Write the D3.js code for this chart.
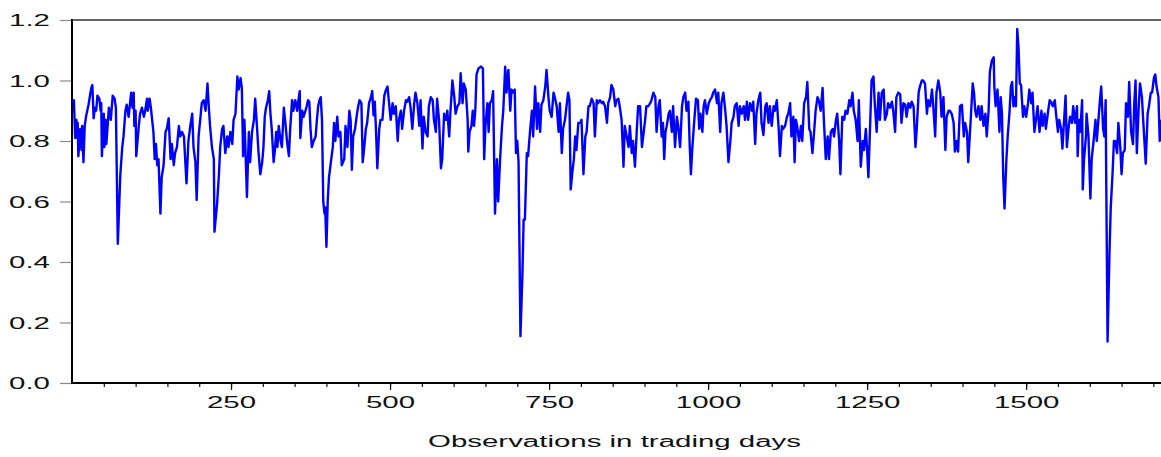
<!DOCTYPE html>
<html>
<head>
<meta charset="utf-8">
<script src="https://cdnjs.cloudflare.com/ajax/libs/d3/7.8.5/d3.min.js"></script>
<style>
  body { margin: 0; background: #fff; }
  svg { display: block; }
</style>
</head>
<body>
<script>
var obsDays = [
  0,3,5,7,8,9,10,13,15,16, 18,20,22,24,26,29,31,32,34,36, 38,40,43,45,46,47,50,51,53,54,
  58,61,64,67,69,72,76,79,81,84, 86,89,93,95,97,98,100,101,105,107, 110,113,115,118,119,122,124,126,128,130,
  132,134,136,139,141,144,147,149,152,155, 157,160,162,165,168,170,173,176,180,183, 186,189,191,194,196,199,202,204,207,210,
  213,215,217,220,223,224,228,231,233,236, 238,241,244,246,249,252,254,257,260,262, 265,267,269,271,272,275,278,280,283,286,
  288,291,293,296,299,301,303,305,308,310, 312,314,317,319,321,323,325,328,330,333, 335,338,341,343,346,348,351,354,356,358,
  359,362,364,367,369,371,373,375,377,380, 383,385,387,389,391,393,395,397,398,400, 402,404,407,410,412,414,417,419,422,424,
  428,430,433,436,438,440,442,445,448,450, 452,455,457,459,462,464,467,470,472,474, 476,478,480,483,485,488,491,493,496,498,
  501,504,506,509,512,514,517,519,522,525, 527,530,532,535,538,540,543,546,548,551, 553,556,559,561,564,567,569,572,574,577,
  580,582,585,588,590,593,595,598,601,603, 606,609,611,614,616,619,622,623,625,628, 630,632,634,
  636,639,643,646,648,650,653,655,657,660, 662,665,668,670,673,676,678,681,683,686, 689,691,694,696,698,700,702,705,708,710,
  712,715,717,720,723,725,728,731,733,736, 738,741,744,746,749,751,754,757,759,762, 765,767,770,772,775,778,780,782,784,787,
  789,791,793,796,799,801,804,807,809,812, 814,817,820,822,825,827,830,833,835,838, 841,843,846,848,851,854,856,859,861,864,
  867,869,872,875,877,880,882,885,888,890, 893,896,898,901,903,906,909,911,914,917, 919,922,924,
  927,929,931,933,935,938,940,943,945,948, 951,953,956,959,961,964,966,969,971,973, 975,978,981,984,986,988,991,993,995,998,
  1001,1003,1006,1008,1011,1014,1016,1019,1021,1024, 1027,1029,1032,1035,1037,1040,1042,1045,1048,1050,
  1053,1056,1058,1061,1063,1066,1069,1071,1074,1076, 1079,1082,1084,1087,1090,1092,1095,1097,1100,1103,
  1105,1108,1111,1113,1116,1118,1121,1124,1126,1129, 1131,1134,1136,1138,1140,1143,1146,1148,1151,1154,
  1156,1159,1161,1164,1167,1169,1172,1174,1177,1180, 1182,1185,1188,1190,1193,1196,1198,1201,1203,1206,
  1208,1211,1214,1216,1219,1222,1224,1227,1229,1232, 1235,1237,1240,1243,1245,1248,1250,1252,1255,1257,
  1260,1262,1265,1268,1270,1273,1276,1278,1281,1283, 1286,1289,1291,1294,1296,1299,1302,1304,1307,1310,
  1312,1315,1318,1320,1323,1326,1328,1331,1333,1336, 1338,1341,1344,1346,1349,1352,1354,1357,1359,1362,
  1365,1367,1370,1373,1375,1378,1380,1383,1386,1388, 1391,1393,1396,
  1399,1402,1404,1407,1409,1412,1416,1418,1420,1422, 1425,1428,1430,1433,1436,1438,1441,1443,1446,1449,
  1450,1452,1455,1458,1460,1462,1464,1466,1469,1471, 1474,1476,1478,1480,1482,1484,1486,1488,1490,1492,
  1495,1497,1500,1503,1505,1508,1510,1513,1516,1518, 1521,1524,1526,1529,1531,1534,1537,1539,1542,1545,
  1547,1550,1552,1555,1557,1560,1562,1564,1567,1569, 1572,1574,1577,1580,1581,1583,1585,1588,1589,1591,
  1594,1595,1598,1601,1603,1606,1609,1611,1614,1616, 1618,1621,1623,1625,1626,1628,1631,1633,1636,1638,
  1640,1643,1645,1648,1650,1652,1655,1657,1660,1662, 1665,1668,1670,1672,1674,1677,1679,1682,1684,1688,
  1691,1693,1696,1698,1701,1703,1705,1708,1710,1712
];

var values = [
  0.93,0.935,0.81,0.87,0.81,0.86,0.75,0.84,0.77,0.85, 0.73,0.85,0.88,0.90,0.92,0.96,0.98,0.985,0.875,0.91, 0.90,0.95,0.94,0.90,0.925,0.75,0.89,0.78,0.87,0.79,
  0.91,0.87,0.95,0.94,0.91,0.46,0.69,0.78,0.815,0.90, 0.92,0.88,0.96,0.91,0.96,0.85,0.90,0.75,0.85,0.89, 0.91,0.88,0.90,0.94,0.90,0.94,0.91,0.87,0.83,0.74,
  0.79,0.72,0.74,0.56,0.68,0.72,0.83,0.84,0.875,0.74, 0.79,0.72,0.76,0.78,0.85,0.815,0.83,0.815,0.66,0.80, 0.85,0.89,0.78,0.73,0.605,0.815,0.88,0.925,0.935,0.90,
  0.99,0.915,0.85,0.78,0.74,0.50,0.59,0.69,0.78,0.84, 0.85,0.76,0.815,0.78,0.83,0.79,0.87,0.89,1.013,0.97, 1.008,0.975,0.75,0.87,0.815,0.615,0.83,0.73,0.83,0.87,
  0.94,0.84,0.77,0.69,0.73,0.78,0.88,0.91,0.935,0.965, 0.89,0.84,0.73,0.77,0.83,0.78,0.85,0.80,0.78,0.91, 0.87,0.80,0.75,0.84,0.935,0.90,0.935,0.90,0.935,0.965,
  0.81,0.90,0.88,0.90,0.915,0.935,0.93,0.84,0.78,0.80, 0.815,0.87,0.915,0.935,0.945,0.87,0.60,0.56,0.58,0.45, 0.60,0.68,0.73,0.78,0.86,0.80,0.88,0.815,0.83,0.72,
  0.74,0.85,0.78,0.90,0.87,0.705,0.815,0.84,0.89,0.915, 0.935,0.925,0.73,0.77,0.84,0.86,0.925,0.945,0.965,0.885, 0.93,0.83,0.71,0.84,0.87,0.87,0.95,0.965,0.98,0.935,
  0.87,0.925,0.89,0.915,0.80,0.87,0.90,0.84,0.90,0.935, 0.93,0.945,0.915,0.84,0.925,0.96,0.925,0.85,0.935,0.775, 0.88,0.83,0.815,0.915,0.945,0.935,0.87,0.83,0.94,0.87,
  0.71,0.74,0.89,0.87,0.90,0.815,0.90,1.00,0.945,0.89, 0.915,0.925,1.024,0.925,0.99,0.97,0.87,0.765,0.83,0.85, 0.90,0.85,0.90,
  1.02,1.04,1.046,1.04,0.74,0.85,0.925,0.83,0.925,0.935, 0.965,0.56,0.74,0.60,0.74,0.85,0.90,1.046,0.96,1.035, 0.90,0.97,0.96,0.97,0.76,0.80,0.73,0.155,0.35,0.54,
  0.54,0.76,0.75,0.83,0.90,0.815,0.98,0.84,0.925,0.83, 0.92,0.935,0.98,1.035,0.945,0.90,0.88,0.96,0.945,0.915, 0.83,0.925,0.76,0.84,0.87,0.925,0.96,0.935,0.64,0.705,
  0.74,0.815,0.77,0.86,0.86,0.87,0.69,0.815,0.83,0.915, 0.915,0.94,0.925,0.815,0.935,0.925,0.935,0.925,0.93,0.915, 0.86,0.925,0.945,0.985,0.97,0.915,0.935,0.94,0.915,0.87,
  0.715,0.85,0.815,0.78,0.85,0.76,0.80,0.715,0.84,0.915, 0.915,0.78,0.815,0.87,0.915,0.915,0.925,0.935,0.96,0.945, 0.83,0.915,0.935,
  0.815,0.86,0.74,0.83,0.85,0.89,0.90,0.83,0.915,0.78, 0.88,0.85,0.78,0.915,0.945,0.96,0.90,0.93,0.79,0.69, 0.77,0.86,0.94,0.935,0.84,0.89,0.83,0.915,0.935,0.89,
  0.925,0.935,0.945,0.96,0.97,0.925,0.96,0.83,0.925,0.96, 0.90,0.85,0.73,0.80,0.86,0.88,0.915,0.925,0.85,0.915,
  0.89,0.915,0.87,0.93,0.87,0.925,0.90,0.93,0.79,0.89, 0.935,0.96,0.86,0.82,0.915,0.925,0.86,0.915,0.85,0.915,
  0.90,0.935,0.84,0.75,0.85,0.84,0.85,0.88,0.89,0.925, 0.815,0.88,0.73,0.87,0.85,0.80,0.85,0.80,0.925,0.945,
  0.995,0.84,0.83,0.76,0.84,0.90,0.945,0.935,0.90,0.975, 0.87,0.74,0.815,0.74,0.83,0.84,0.815,0.87,0.89,0.80,
  0.69,0.88,0.87,0.90,0.89,0.935,0.915,0.96,0.90,0.87, 0.80,0.935,0.715,0.80,0.77,0.84,0.77,0.68,0.87,1.00,
  1.013,0.925,0.83,0.96,0.87,0.96,0.97,0.87,0.89,0.925, 0.91,0.93,0.90,0.83,0.945,0.96,0.955,0.86,0.925,0.92,
  0.88,0.925,0.91,0.93,0.915,0.78,0.84,0.96,0.98,1.00, 1.00,0.99,0.89,0.935,0.915,0.97,0.915,0.815,0.96,1.00,
  0.96,0.88,0.945,0.77,0.88,0.90,0.90,0.89,0.86,0.765, 0.80,0.765,0.915,
  0.92,0.815,0.86,0.83,0.73,0.84,0.99,0.96,0.90,0.88, 0.915,0.87,0.915,0.85,0.89,0.815,0.90,1.03,1.065,1.077,
  0.98,0.915,0.97,0.83,0.945,0.89,0.68,0.577,0.74,0.815, 0.90,0.98,0.995,0.915,0.945,0.915,1.17,1.11,0.99,0.985,
  0.88,0.915,0.88,0.925,0.97,0.925,0.96,0.83,0.88,0.915, 0.83,0.90,0.85,0.89,0.84,0.89,0.935,0.93,0.915,0.935,
  0.89,0.83,0.87,0.84,0.775,0.88,0.95,0.78,0.85,0.88, 0.86,0.915,0.86,0.915,0.75,0.87,0.83,0.935,0.64,0.74,
  0.815,0.89,0.815,0.61,0.74,0.80,0.87,0.80,0.88,0.935, 0.98,0.84,0.815,0.935,0.65,0.137,0.43,0.58,0.70,0.80,
  0.80,0.76,0.86,0.78,0.69,0.76,0.77,0.925,0.88,0.995, 0.83,0.79,0.925,1.00,0.76,0.915,0.99,0.945,0.87,0.725,
  0.89,0.915,0.96,0.96,1.01,1.02,0.98,0.945,0.80,0.87
];

var yTicks = [0, 0.2, 0.4, 0.6, 0.8, 1.0, 1.2];
var xMinorTicks = d3.range(50, 1701, 50);
var xMajorTicks = [250, 500, 750, 1000, 1250, 1500];
var xTitle = "Observations in trading days";

var width = 1161, height = 457;
var plotLeft = 72, plotTop = 20, plotRight = 1161, plotBottom = 383;
var stretch = 1.84; // labels are drawn wide in the original

var svg = d3.select("body").append("svg")
  .attr("width", width)
  .attr("height", height);

var x = d3.scaleLinear().domain([0, 1712]).range([plotLeft, plotRight]);
var y = d3.scaleLinear().domain([0, 1.2]).range([plotBottom, plotTop]);

var font = "'Liberation Sans', Arial, sans-serif";

// y axis
var yAxis = svg.append("g")
  .attr("transform", "translate(" + plotLeft + ",0)")
  .call(d3.axisLeft(y).tickValues(yTicks).tickSize(12).tickSizeOuter(0)
    .tickFormat(d3.format(".1f")));
yAxis.select(".domain").remove();
yAxis.selectAll(".tick line").attr("stroke", "#8a8a8a").attr("stroke-width", 1.2);
yAxis.selectAll(".tick text")
  .attr("x", null)
  .attr("dy", "0.37em")
  .attr("transform", "translate(-22,0) scale(" + stretch + ",1)")
  .attr("text-anchor", "end")
  .attr("font-family", font)
  .attr("font-size", "16px")
  .attr("fill", "#111");

// x axis minor ticks
var xMinor = svg.append("g")
  .attr("transform", "translate(0," + plotBottom + ")")
  .call(d3.axisBottom(x).tickValues(xMinorTicks).tickSize(4).tickSizeOuter(0).tickFormat(""));
xMinor.select(".domain").remove();
xMinor.selectAll(".tick line").attr("stroke", "#111").attr("stroke-width", 1.2);

// x axis major ticks with labels
var xMajor = svg.append("g")
  .attr("transform", "translate(0," + plotBottom + ")")
  .call(d3.axisBottom(x).tickValues(xMajorTicks).tickSize(7).tickSizeOuter(0).tickFormat(d3.format("d")));
xMajor.select(".domain").remove();
xMajor.selectAll(".tick line").attr("stroke", "#111").attr("stroke-width", 1.2);
xMajor.selectAll(".tick text")
  .attr("y", null)
  .attr("dy", null)
  .attr("transform", "translate(0,25) scale(" + stretch + ",1)")
  .attr("text-anchor", "middle")
  .attr("font-family", font)
  .attr("font-size", "16px")
  .attr("fill", "#111");

// frame (no right edge visible in the original)
svg.append("line").attr("x1", plotLeft).attr("x2", plotRight).attr("y1", plotTop).attr("y2", plotTop)
  .attr("stroke", "#333").attr("stroke-width", 1.5);
svg.append("line").attr("x1", plotLeft).attr("x2", plotRight).attr("y1", plotBottom).attr("y2", plotBottom)
  .attr("stroke", "#000").attr("stroke-width", 2);
svg.append("line").attr("x1", plotLeft).attr("x2", plotLeft).attr("y1", plotTop - 1).attr("y2", plotBottom + 1)
  .attr("stroke", "#000").attr("stroke-width", 2);

// the series
var line = d3.line()
  .x(function(d) { return x(d[0]); })
  .y(function(d) { return y(d[1]); });

svg.append("path")
  .datum(d3.zip(obsDays, values))
  .attr("d", line)
  .attr("fill", "none")
  .attr("stroke", "#0000ff")
  .attr("stroke-width", 2.4)
  .attr("stroke-linejoin", "round");

// axis title
svg.append("text")
  .attr("transform", "translate(" + ((plotLeft + plotRight) / 2 - 2) + ",447) scale(" + stretch + ",1)")
  .attr("text-anchor", "middle")
  .attr("font-family", font)
  .attr("font-size", "16px")
  .attr("fill", "#111")
  .text(xTitle);
</script>
</body>
</html>
